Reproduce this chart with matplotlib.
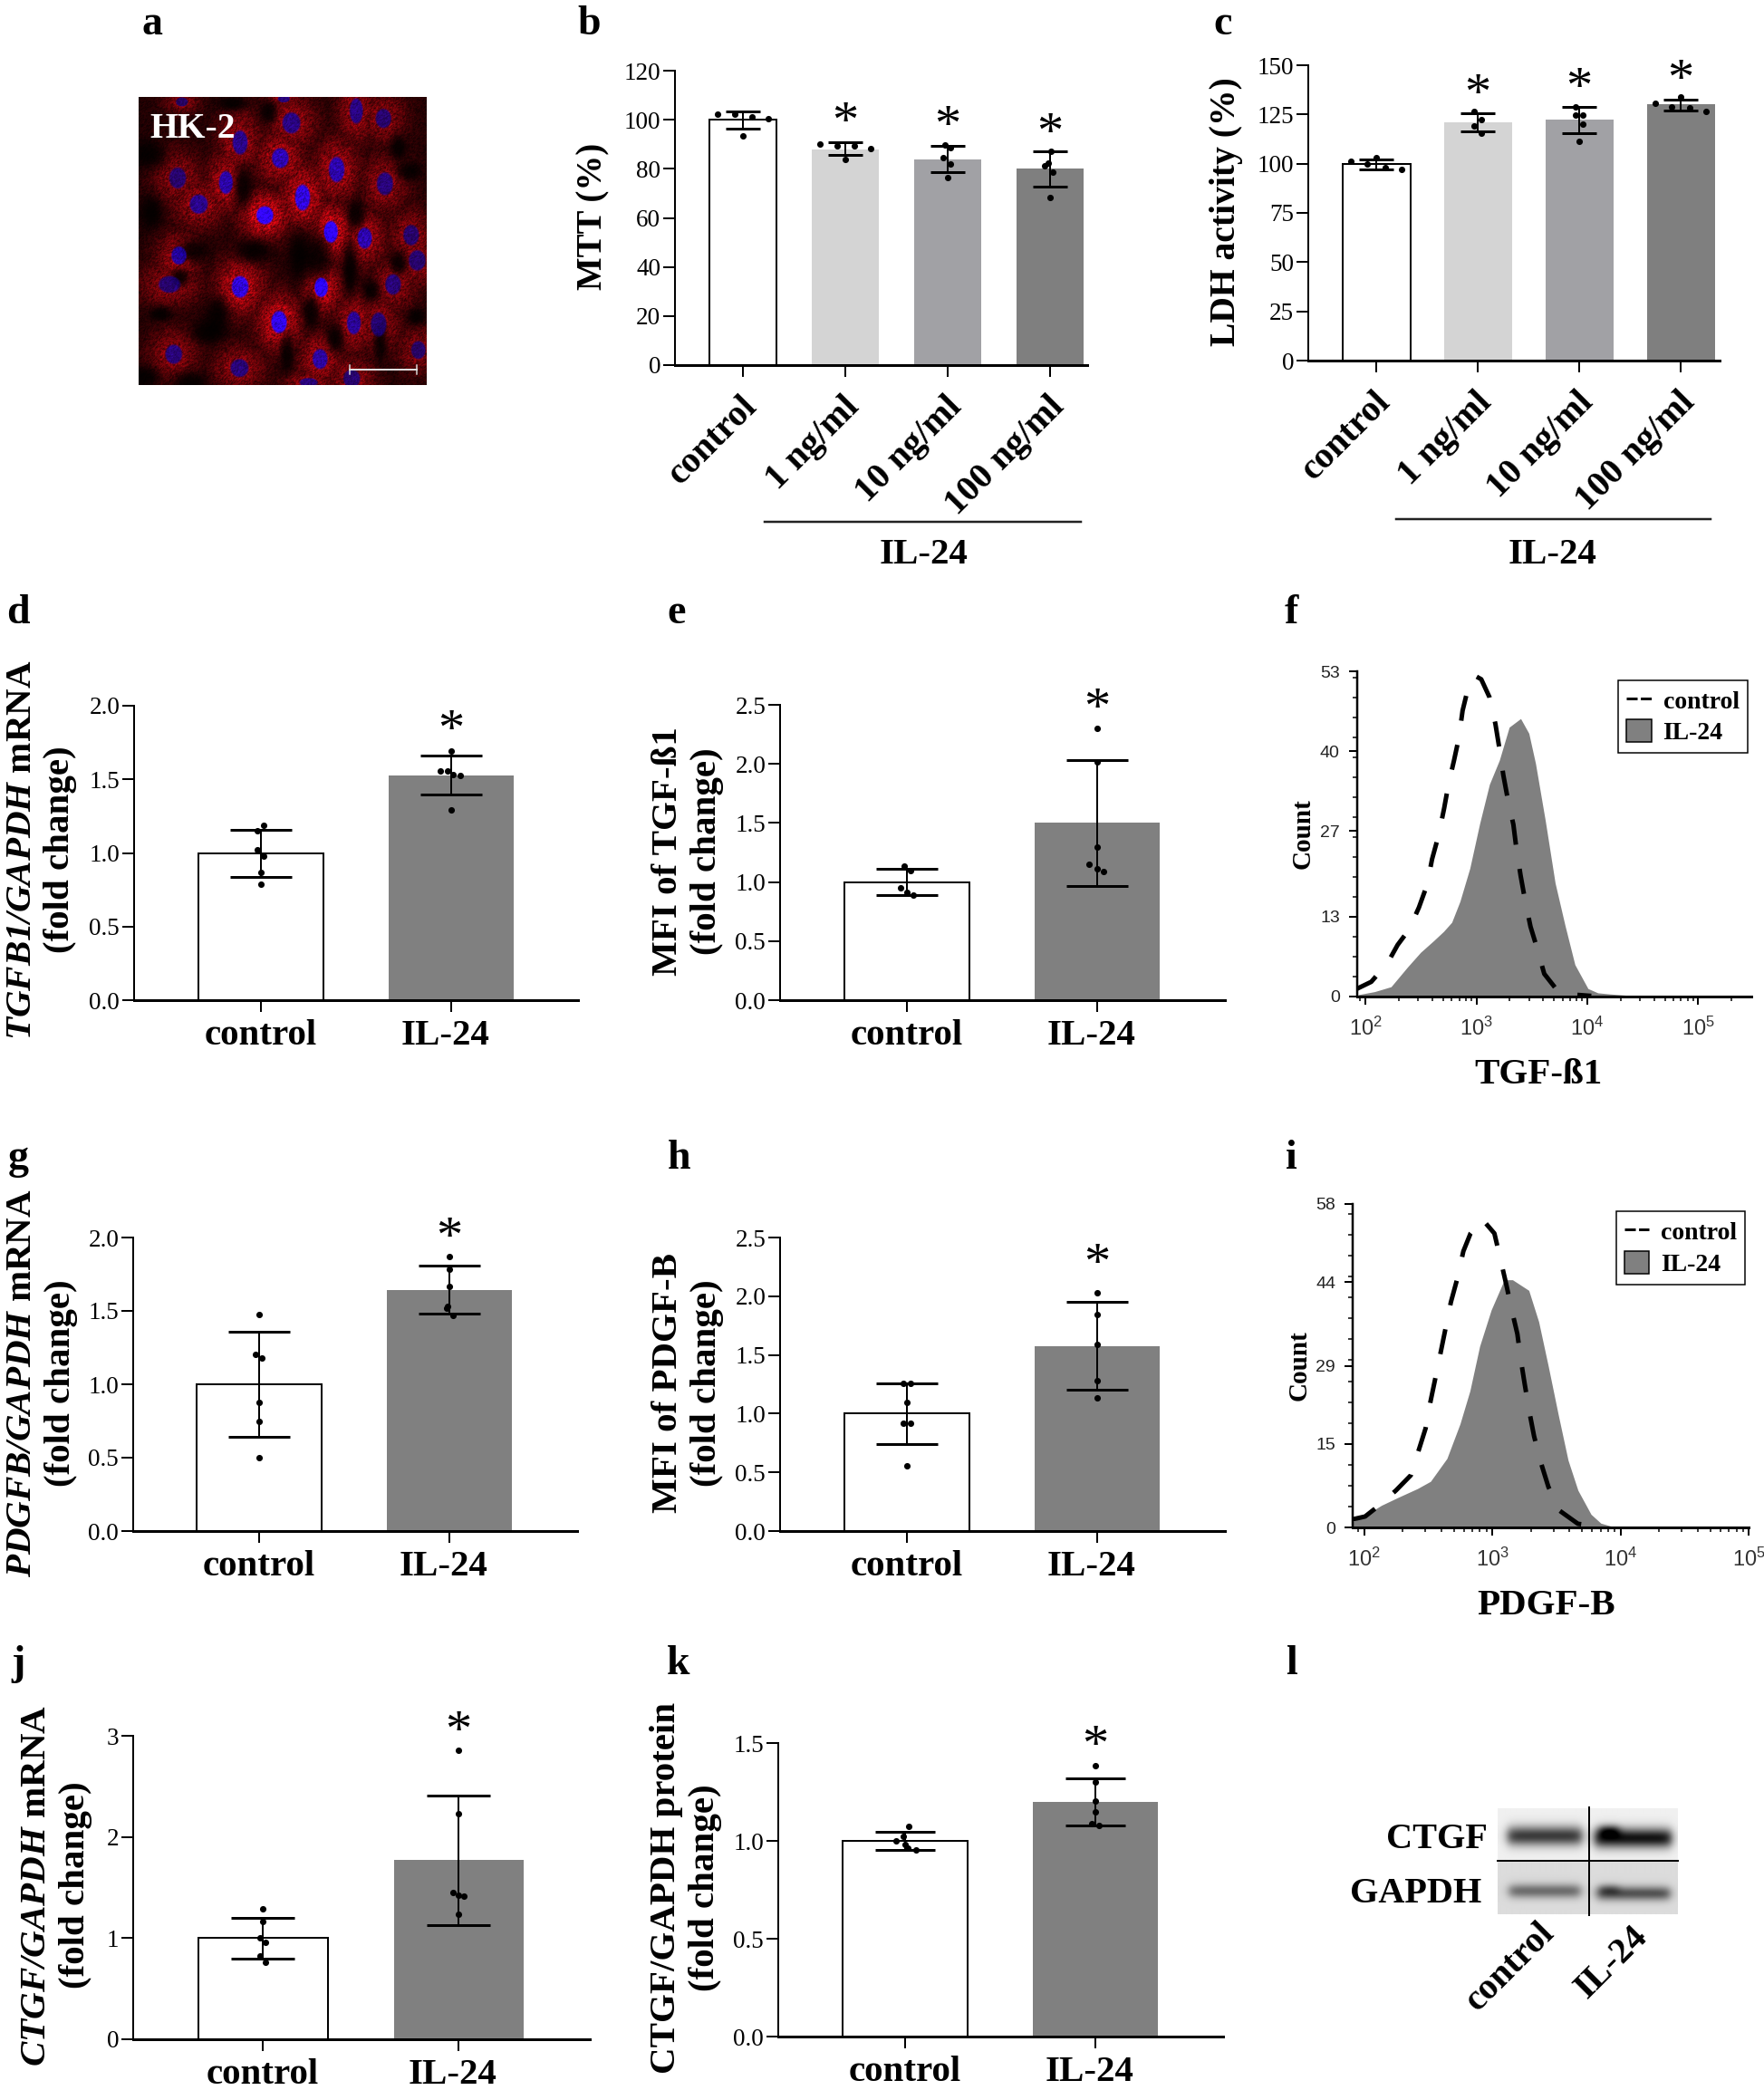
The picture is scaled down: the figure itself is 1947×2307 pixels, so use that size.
import matplotlib
matplotlib.use('Agg')
import matplotlib.pyplot as plt
import numpy as np
from matplotlib.lines import Line2D
from matplotlib.patches import Patch
from matplotlib.ticker import AutoMinorLocator, LogLocator, NullFormatter
from matplotlib.transforms import ScaledTranslation

plt.rcParams['font.family'] = ['Liberation Serif', 'DejaVu Sans']
plt.rcParams['mathtext.fontset'] = 'custom'
plt.rcParams['mathtext.bfit'] = 'Liberation Serif:italic:bold'
plt.rcParams['mathtext.rm'] = 'Liberation Serif'

W, H = 1947, 2307
PX = 0.72  # one image pixel in points at dpi 100

# ---- data ----
dose_labels = ['control', '1 ng/ml', '10 ng/ml', '100 ng/ml']
pair_labels = ['control', 'IL-24']

b_bars = [100, 88, 84, 80]
b_hi = [103.4, 90.7, 89.3, 87]
b_lo = [96.4, 85.8, 78.7, 72.7]
b_pts = [[102.4, 102.2, 101, 100.3, 93.6], [90, 89.2, 89.5, 88.3, 83.9],
         [89.9, 88.5, 84.5, 81.8, 76.3], [87.3, 82.5, 81.4, 78.6, 68.2]]
b_dx = [[-.25, -.08, .09, .25, 0], [-.25, -.08, .09, .25, 0],
        [-.03, .03, -.04, .03, 0], [.01, -.02, -.05, .03, 0]]
b_star = [None, 103.3, 101.8, 98.8]

c_bars = [100, 121, 122.3, 130]
c_hi = [102.2, 125.6, 128.9, 132.6]
c_lo = [97.3, 116.3, 115.4, 127.1]
c_pts = [[101, 99.9, 103, 98, 97], [126.5, 122.3, 119.4, 115.7],
         [128.8, 124.9, 124.9, 120.3, 111.4], [130.8, 128.9, 133.7, 128.6, 126.5]]
c_dx = [[-.25, -.085, 0, .09, .25], [-.034, .034, -.034, .034],
        [-.034, -.034, .034, .034, 0], [-.25, -.085, 0, .085, .25]]
c_star = [None, 140.8, 144.1, 148]

d_bars = [1.0, 1.525]
d_hi = [1.155, 1.66]
d_lo = [0.84, 1.395]
d_pts = [[1.19, 1.15, 1.02, 0.98, 0.87, 0.79], [1.69, 1.56, 1.555, 1.53, 1.525, 1.29]]
d_dx = [[.016, -.019, -.019, .016, 0, 0], [0, -.057, -.019, .014, .052, 0]]
d_star = [None, 1.905]

e_bars = [1.0, 1.5]
e_hi = [1.11, 2.03]
e_lo = [0.89, 0.97]
e_pts = [[1.138, 1.096, .954, .91, .888], [2.30, 2.02, 1.297, 1.151, 1.11, 1.09]]
e_dx = [[-.016, .02, -.035, 0, .035], [0, 0, 0, -.04, 0, .035]]
e_star = [None, 2.563]

g_bars = [1.0, 1.64]
g_hi = [1.355, 1.81]
g_lo = [0.64, 1.48]
g_pts = [[1.477, 1.205, 1.176, .879, .746, .5], [1.869, 1.787, 1.668, 1.533, 1.518, 1.467]]
g_dx = [[0, -.02, .016, 0, 0, 0], [0, 0, 0, -.01, -.012, .02]]
g_star = [None, 2.07]

h_bars = [1.0, 1.575]
h_hi = [1.26, 1.955]
h_lo = [0.74, 1.2]
h_pts = [[1.254, 1.254, 1.095, .915, .915, .556], [2.033, 1.846, 1.59, 1.282, 1.133]]
h_dx = [[-.02, .02, 0, -.02, .02, 0], [0, 0, 0, 0, 0]]
h_star = [None, 2.367]

j_bars = [1.0, 1.775]
j_hi = [1.2, 2.41]
j_lo = [0.8, 1.13]
j_pts = [[1.29, 1.167, 1.0, .958, .82, .764], [2.86, 2.23, 1.448, 1.427, 1.418, 1.239]]
j_dx = [[0, 0, -.015, .015, -.015, .015], [0, 0, -.03, 0, .03, 0]]
j_star = [None, 3.15]

k_bars = [1.0, 1.2]
k_hi = [1.045, 1.32]
k_lo = [0.955, 1.08]
k_pts = [[1.074, 1.025, 1.002, .982, .963, .956], [1.383, 1.303, 1.202, 1.148, 1.09, 1.078]]
k_dx = [[.02, -.01, -.05, 0, .015, .055], [0, 0, 0, 0, -.02, .02]]
k_star = [None, 1.54]

# flow cytometry histograms, log10 of the intensity and the count
f_il_log = [1.935, 2.083, 2.231, 2.379, 2.497, 2.615, 2.704, 2.778, 2.852, 2.941, 3.030, 3.118, 3.207,
            3.296, 3.399, 3.473, 3.533, 3.621, 3.710, 3.799, 3.888, 4.006, 4.095, 4.213, 4.361]
f_il_count = [0.3, 0.8, 1.6, 4.8, 7.2, 9.1, 10.6, 12.1, 15.5, 20.9, 28.2, 34.6, 38.5,
              43.9, 45.3, 42.9, 38, 28.7, 18.5, 11.6, 5.2, 1.3, 0.6, 0.4, 0.2]
f_ct_log = [1.905, 2.053, 2.201, 2.290, 2.393, 2.482, 2.556, 2.601, 2.660, 2.710, 2.749, 2.799, 2.843,
            2.876, 2.926, 2.985, 3.044, 3.118, 3.172, 3.207, 3.243, 3.281, 3.334, 3.361, 3.399, 3.438,
            3.488, 3.547, 3.612, 3.725, 3.888, 4.036]
f_ct_count = [1.1, 2.4, 5.5, 8.4, 10.9, 14.5, 18.2, 22.4, 26.3, 30.7, 34.6, 38.5, 42.2,
              46.6, 50.3, 52.3, 51.7, 48.8, 44.4, 40.5, 36.1, 32.4, 28, 24.1, 19.7, 15.8,
              11.4, 7.9, 3.7, 1.1, .3, .1]
f_yticks = [0, 13, 27, 40, 53]

i_il_log = [1.911, 2.008, 2.135, 2.263, 2.416, 2.518, 2.646, 2.748, 2.825, 2.901, 2.991, 3.093, 3.157,
            3.284, 3.361, 3.437, 3.514, 3.590, 3.667, 3.769, 3.846, 3.922, 4.050]
i_il_count = [1.1, 2.2, 4.0, 5.4, 7, 8.3, 12.4, 18.6, 24.5, 32.5, 39, 44.4, 44.4,
              42.5, 36.9, 28.8, 20.2, 12.1, 6.7, 2.4, .8, .3, .1]
i_ct_log = [1.911, 2.008, 2.135, 2.250, 2.365, 2.421, 2.480, 2.518, 2.557, 2.600, 2.638, 2.677, 2.728,
            2.774, 2.830, 2.919, 3.016, 3.062, 3.111, 3.151, 3.195, 3.223, 3.253, 3.289, 3.325, 3.379,
            3.437, 3.527, 3.667, 3.795]
i_ct_count = [1.5, 2, 4.3, 6.7, 9.4, 13.5, 17.8, 22.6, 26.9, 31.7, 36, 40.4, 44.7,
              49.5, 52.7, 55.3, 52.7, 48.2, 43.3, 39, 34.7, 29.9, 25.6, 20.7, 16.4, 11.6,
              7.3, 3, .7, .3]
i_yticks = [0, 15, 29, 44, 58]

# micrograph: nuclei as x, y, half width, half height, brightness (crop coordinates)
nuc_x = [212, 550, 575, 405, 538, 790, 880, 725, 198, 358, 268, 612, 487, 706, 818, 885, 972, 202, 992,
         171, 405, 674, 912, 534, 782, 864, 996, 185, 670, 403, 632, 775]
nuc_y = [65, 55, 135, 200, 252, 95, 120, 290, 318, 333, 405, 383, 442, 497, 518, 337, 508, 576, 592,
         672, 680, 682, 672, 797, 800, 805, 890, 904, 920, 950, 998, 985]
nuc_rx = [20, 20, 30, 25, 28, 22, 26, 26, 28, 23, 30, 25, 28, 23, 24, 27, 26, 25, 28,
          36, 28, 22, 26, 26, 23, 26, 24, 28, 25, 30, 30, 28]
nuc_ry = [15, 12, 35, 40, 33, 42, 32, 42, 35, 38, 32, 43, 30, 36, 35, 38, 34, 30, 34,
          28, 36, 32, 34, 37, 38, 40, 30, 32, 33, 30, 15, 30]
nuc_b = [.2, .3, .35, .4, .6, .35, .25, .55, .25, .55, .4, .8, 1, 1, .55, .3, .25, .5, .25,
         .25, .8, 1, .3, .85, .45, .25, .2, .3, .5, .3, .3, .25]
# dark gaps between the cells
hole_x = [380, 415, 930, 965, 930, 790, 140, 205, 990, 840, 100, 500, 660, 300, 90, 600, 250, 720,
          450, 330, 770, 560, 110, 870, 640, 240]
hole_y = [70, 345, 220, 295, 600, 440, 770, 650, 780, 690, 240, 100, 580, 830, 980, 580, 560, 850,
          560, 770, 620, 900, 430, 870, 760, 1000]
hole_rx = [50, 30, 30, 45, 30, 30, 40, 30, 30, 30, 60, 30, 50, 60, 50, 35, 60, 30,
           60, 40, 25, 25, 40, 25, 30, 60]
hole_ry = [25, 70, 45, 35, 40, 50, 25, 30, 30, 40, 50, 40, 90, 40, 40, 100, 40, 50,
           40, 60, 90, 70, 60, 70, 60, 40]

# ---- layout, pixels of the full image ----
fig = plt.figure(figsize=(W / 100, H / 100), dpi=100, facecolor='white')
page = fig.add_axes([0, 0, 1, 1])
page.set_xlim(0, W)
page.set_ylim(H, 0)
page.axis('off')


def shift_px(dx, dy=0):
    return ScaledTranslation(dx / 100, dy / 100, fig.dpi_scale_trans)


def panel_axes(left, right, top, bottom):
    return fig.add_axes([left / W, 1 - bottom / H, (right - left) / W, (bottom - top) / H])


def bar_panel(box, centres, width_px, bars, hi, lo, pts, dx, stars, ymax, yticks, yticklabels,
              colours, labels, ylabel, ylabel_xy, cap_px, rotate=False, ylabel_size=29.5):
    left, right, top, bottom = box
    ax = panel_axes(left, right, top, bottom)
    step = centres[1] - centres[0]
    ax.set_xlim((left - centres[0]) / step, (right - centres[0]) / step)
    ax.set_ylim(0, ymax)
    pos = np.arange(len(bars))
    bars = np.array(bars)
    for p, v, c in zip(pos, bars, colours):
        white = c == 'white'
        ax.bar(p, v, width_px / step, color=c, edgecolor='black' if white else c,
               linewidth=2 * PX if white else 0, zorder=2)
    ax.errorbar(pos, bars, yerr=[bars - np.array(lo), np.array(hi) - bars], fmt='none', ecolor='black',
                elinewidth=2 * PX, capsize=cap_px * PX, capthick=3 * PX, zorder=3)
    for p, ys, ds in zip(pos, pts, dx):
        ax.scatter(p + np.array(ds), ys, s=26, color='black', linewidths=0, zorder=4, clip_on=False)
    for p, s in zip(pos, stars):
        if s is not None:
            ax.annotate('*', (p, s), xytext=(0, -20), textcoords='offset points', ha='center',
                        va='baseline', fontsize=42, annotation_clip=False)
    for side in ['top', 'right']:
        ax.spines[side].set_visible(False)
    ax.spines['left'].set_linewidth(2 * PX)
    ax.spines['bottom'].set_linewidth(3 * PX)
    ax.spines['bottom'].set_zorder(5)
    ax.patch.set_alpha(0)
    ax.set_yticks(yticks)
    ax.set_yticklabels(yticklabels, fontsize=19.5)
    ax.tick_params(axis='y', length=13 * PX, width=2 * PX, pad=2)
    ax.tick_params(axis='x', length=13 * PX, width=2 * PX, pad=6)
    ax.set_xticks(pos)
    if rotate:
        ax.set_xticklabels(labels, rotation=45, ha='right', va='top', rotation_mode='anchor',
                           fontsize=29, fontweight='bold')
        for t in ax.get_xticklabels():
            t.set_transform(t.get_transform() + shift_px(-3, -6))
    else:
        ax.set_xticklabels(labels, fontsize=29.5, fontweight='bold')
        ax.get_xticklabels()[1].set_transform(ax.get_xticklabels()[1].get_transform() + shift_px(-6))
    ax.set_ylabel(ylabel, fontsize=ylabel_size, fontweight='bold', va='center', ha='center', linespacing=1.2)
    ax.yaxis.set_label_coords(ylabel_xy[0], ylabel_xy[1], transform=page.transData)
    return ax


def flow_panel(box, xlog, ymax, yticks, il_log, il_count, ct_log, ct_count, xlabel, xlabel_xy, count_xy, legend_xy):
    left, right, top, bottom = box
    ax = panel_axes(left, right, top, bottom)
    ax.set_xscale('log')
    ax.set_xlim(10 ** xlog[0], 10 ** xlog[1])
    ax.set_ylim(0, ymax)
    ax.fill_between(10 ** np.array(il_log), il_count, color='#808080', linewidth=0)
    ax.plot(10 ** np.array(ct_log), ct_count, color='black', lw=5 * PX, linestyle=(0, (5.6, 5.4)),
            dash_capstyle='butt')
    for side in ['top', 'right']:
        ax.spines[side].set_visible(False)
    ax.spines['left'].set_linewidth(2.5 * PX)
    ax.spines['bottom'].set_linewidth(3 * PX)
    ax.set_yticks(yticks)
    ax.yaxis.set_minor_locator(AutoMinorLocator(4))
    ax.set_yticklabels([str(v) for v in yticks], fontsize=14, family='Liberation Sans', color='#222222')
    ax.set_xticks([100, 1000, 10000, 100000])
    ax.set_xticklabels([r'$\mathregular{10^{%d}}$' % n for n in [2, 3, 4, 5]], fontsize=17,
                       family='Liberation Sans', color='#333333')
    ax.xaxis.set_minor_locator(LogLocator(base=10, subs=np.arange(2, 10), numticks=12))
    ax.xaxis.set_minor_formatter(NullFormatter())
    ax.tick_params(which='major', length=9 * PX, width=2 * PX, pad=7)
    ax.tick_params(axis='x', which='major', pad=10)
    ax.tick_params(which='minor', length=5 * PX, width=1.5 * PX)
    ax.set_ylabel('Count', fontsize=21, fontweight='bold', va='center', ha='center')
    ax.yaxis.set_label_coords(count_xy[0], count_xy[1], transform=page.transData)
    ax.set_xlabel(xlabel, fontsize=29.5, fontweight='bold', va='center', ha='center')
    ax.xaxis.set_label_coords(xlabel_xy[0], xlabel_xy[1], transform=page.transData)
    handles = [Line2D([0], [0], color='black', lw=3 * PX, linestyle=(0, (4, 1.2))),
               Patch(facecolor='#808080', edgecolor='black', linewidth=1.5 * PX)]
    ax.legend(handles, ['control', 'IL-24'], loc='upper right', bbox_to_anchor=legend_xy,
              bbox_transform=page.transData, borderaxespad=0, fancybox=False, framealpha=1,
              edgecolor='black', handlelength=1.0, handleheight=1.0, handletextpad=0.45,
              labelspacing=0.25, borderpad=0.32,
              prop={'family': 'Liberation Serif', 'weight': 'bold', 'size': 20})
    ax.get_legend().get_frame().set_linewidth(1.5 * PX)
    return ax


# ---- a: micrograph ----
gx, gy = np.meshgrid(np.linspace(70, 1022, 318), np.linspace(50, 1005, 318))
cells = np.zeros(gx.shape)
blue = np.zeros(gx.shape)
nucleus = np.zeros(gx.shape)
for x0, y0, rx, ry, br in zip(nuc_x, nuc_y, nuc_rx, nuc_ry, nuc_b):
    glow = (0.3 + 0.4 * br) * np.exp(-(((gx - x0) / (rx * 2.9)) ** 2 + ((gy - y0) / (ry * 2.6)) ** 2))
    cells = np.maximum(cells, glow)
    inside = np.clip(4.5 * (1.1 - np.sqrt(((gx - x0) / rx) ** 2 + ((gy - y0) / ry) ** 2)), 0, 1)
    blue = np.maximum(blue, inside * (0.2 + 0.75 * br))
    nucleus = np.maximum(nucleus, inside)
red = 0.12 + cells
for x0, y0, rx, ry in zip(hole_x, hole_y, hole_rx, hole_ry):
    red *= 1 - 0.85 * np.exp(-(((gx - x0) / rx) ** 2 + ((gy - y0) / ry) ** 2) ** 1.5)
# fine confocal speckle from a plain hash of the pixel index
row, col = np.indices(gx.shape)
grain = np.sin(row * col * 0.7131 + row * 1.37 + col * 2.11) * 43758.5453
grain = grain - np.floor(grain)
grain = (grain + np.roll(grain, 1, axis=0) + np.roll(grain, 1, axis=1)) / 3
red = np.clip(red * (0.4 + 1.2 * grain), 0, 1)
blue = blue * (0.65 + 0.7 * grain)
rgb = np.dstack([red * (1 - 0.85 * nucleus) + 0.08 * nucleus, 0.03 * red, 0.08 * red + blue])
page.imshow(np.clip(rgb, 0, 1), extent=(153, 471, 425, 107), aspect='auto', interpolation='bilinear')
page.text(213, 143, 'HK-2', color='white', fontsize=28.5, fontweight='bold', ha='center', va='center')
page.plot([386, 460], [408, 408], color='#dddddd', lw=2 * PX)
page.plot([386, 386], [403, 413], color='#dddddd', lw=1.5 * PX)
page.plot([460, 460], [403, 413], color='#dddddd', lw=1.5 * PX)

# ---- bar panels ----
dose_colours = ['white', '#d4d4d4', '#a1a1a5', '#7f7f7f']
pair_colours = ['white', '#808080']
half_ticks = ['0.0', '0.5', '1.0', '1.5', '2.0']
half_ticks_25 = half_ticks + ['2.5']

bar_panel((745, 1200, 78, 403), [820, 933, 1046, 1159], 74, b_bars, b_hi, b_lo, b_pts, b_dx, b_star, 120,
          [0, 20, 40, 60, 80, 100, 120], ['0', '20', '40', '60', '80', '100', '120'], dose_colours, dose_labels,
          'MTT (%)', (655, 239), 19, rotate=True, ylabel_size=28)
bar_panel((1444, 1898, 72, 398), [1519, 1631, 1744, 1857], 75, c_bars, c_hi, c_lo, c_pts, c_dx, c_star, 150,
          [0, 25, 50, 75, 100, 125, 150], ['0', '25', '50', '75', '100', '125', '150'], dose_colours, dose_labels,
          'LDH activity (%)', (1354, 234), 19, rotate=True, ylabel_size=28.5)
bar_panel((148, 638, 779, 1104), [288, 497.5], 138, d_bars, d_hi, d_lo, d_pts, d_dx, d_star, 2.0,
          [0, .5, 1, 1.5, 2], half_ticks, pair_colours, pair_labels,
          '$\\mathbfit{TGFB1/GAPDH}$ mRNA\n(fold change)', (45.5, 938), 34)
bar_panel((861, 1352, 778, 1104), [1001, 1210.6], 138, e_bars, e_hi, e_lo, e_pts, e_dx, e_star, 2.5,
          [0, .5, 1, 1.5, 2, 2.5], half_ticks_25, pair_colours, pair_labels,
          'MFI of TGF-ß1\n(fold change)', (759, 940), 34)
bar_panel((147, 637, 1366, 1690), [286, 496], 138, g_bars, g_hi, g_lo, g_pts, g_dx, g_star, 2.0,
          [0, .5, 1, 1.5, 2], half_ticks, pair_colours, pair_labels,
          '$\\mathbfit{PDGFB/GAPDH}$ mRNA\n(fold change)', (46, 1527), 34)
bar_panel((861, 1352, 1366, 1690), [1001, 1210.6], 138, h_bars, h_hi, h_lo, h_pts, h_dx, h_star, 2.5,
          [0, .5, 1, 1.5, 2, 2.5], half_ticks_25, pair_colours, pair_labels,
          'MFI of PDGF-B\n(fold change)', (759, 1527), 34)
bar_panel((147, 651, 1916, 2251), [290, 506], 143, j_bars, j_hi, j_lo, j_pts, j_dx, j_star, 3,
          [0, 1, 2, 3], ['0', '1', '2', '3'], pair_colours, pair_labels,
          '$\\mathbfit{CTGF/GAPDH}$ mRNA\n(fold change)', (62, 2081), 35)
bar_panel((859, 1350, 1924, 2248), [999, 1209], 138, k_bars, k_hi, k_lo, k_pts, k_dx, k_star, 1.5,
          [0, .5, 1, 1.5], ['0.0', '0.5', '1.0', '1.5'], pair_colours, pair_labels,
          'CTGF/GAPDH protein\n(fold change)', (757, 2084), 33)

# IL-24 brackets under the dose labels
page.plot([844, 1193], [576, 576], color='#222222', lw=2.5 * PX)
page.text(1020, 612, 'IL-24', fontsize=29.5, fontweight='bold', ha='center', va='center')
page.plot([1541, 1888], [572.5, 572.5], color='#222222', lw=2.5 * PX)
page.text(1714, 612, 'IL-24', fontsize=29.5, fontweight='bold', ha='center', va='center')

# ---- flow panels ----
flow_panel((1497.5, 1932.6, 741, 1100), (1.922, 5.475), 53, f_yticks, f_il_log, f_il_count, f_ct_log, f_ct_count,
           'TGF-ß1', (1698, 1186), (1438, 920), (1928.6, 750.7))
flow_panel((1492.8, 1930.4, 1328.8, 1686.3), (1.91, 5.0), 58, i_yticks, i_il_log, i_il_count, i_ct_log, i_ct_count,
           'PDGF-B', (1707, 1772), (1434, 1507), (1926, 1337))

# ---- l: blot ----
bx, by = np.meshgrid(np.linspace(693, 1285, 198), np.linspace(107, 458, 117))


def band(x0, x1, yc, hy, depth):
    across = 0.5 * (np.tanh((bx - x0) / 18) - np.tanh((bx - x1) / 18))
    return depth * across * np.exp(-((by - yc) / hy) ** 2)


blot = np.where(by < 283, 0.94, 0.86)
blot = blot * (1 - np.clip(band(725, 970, 198, 33, .75) + band(1012, 1265, 205, 33, .92)
                           + band(1030, 1090, 180, 20, .5)
                           + band(730, 965, 382, 24, .5) + band(1020, 1260, 390, 24, .62)
                           + band(1030, 1090, 375, 18, .25), 0, 1))
page.imshow(blot, cmap='gray', vmin=0, vmax=1, extent=(1653, 1852, 2113, 1996), aspect='auto',
            interpolation='bilinear')
page.plot([1653, 1852], [2054, 2054], color='black', lw=2 * PX)
page.plot([1753.5, 1753.5], [1995, 2114], color='black', lw=2 * PX)
page.text(1642, 2031, 'CTGF', fontsize=29, fontweight='bold', ha='right', va='center')
page.text(1635, 2090, 'GAPDH', fontsize=29, fontweight='bold', ha='right', va='center')
page.text(1667, 2171, 'control', fontsize=29, fontweight='bold', ha='center', va='center', rotation=45)
page.text(1779, 2166, 'IL-24', fontsize=29, fontweight='bold', ha='center', va='center', rotation=45)

# ---- panel letters ----
letters = ['a', 'b', 'c', 'd', 'e', 'f', 'g', 'h', 'i', 'j', 'k', 'l']
letter_x = [168, 650, 1350, 20, 747, 1425, 20, 750, 1425, 20, 749, 1425]
letter_y = [27, 27, 27, 677, 677, 677, 1279, 1279, 1279, 1837, 1837, 1837]
for s, x, y in zip(letters, letter_x, letter_y):
    page.text(x, y, s, fontsize=33, fontweight='bold', ha='center', va='center')

page.set_xlim(0, W)
page.set_ylim(H, 0)
fig.savefig('out.png', dpi=100)
